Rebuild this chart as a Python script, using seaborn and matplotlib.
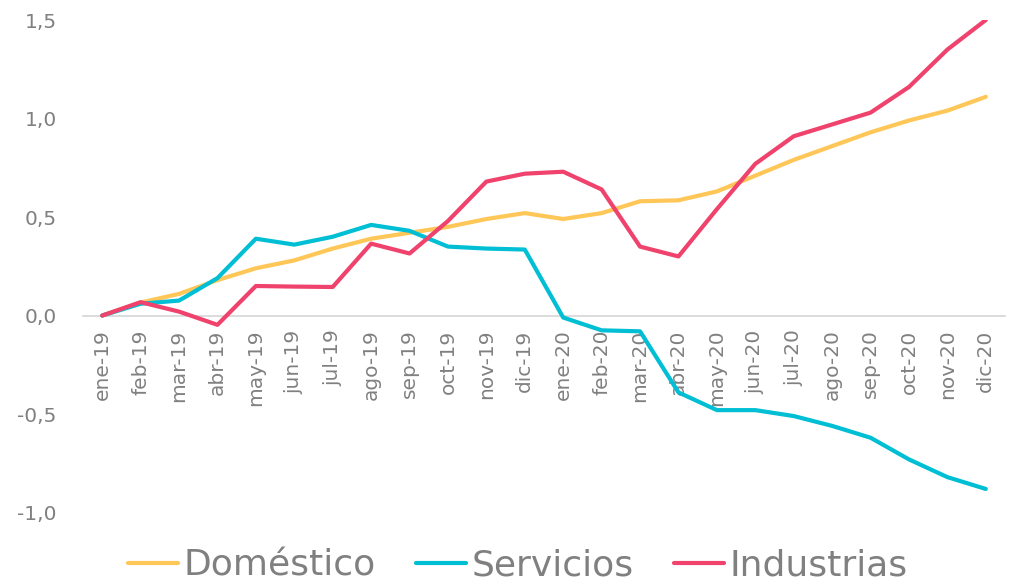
import numpy as np
import pandas as pd
import matplotlib.pyplot as plt
import matplotlib.ticker as mticker
import seaborn as sns

MONTHS = ['ene-19', 'feb-19', 'mar-19', 'abr-19', 'may-19', 'jun-19', 'jul-19', 'ago-19',
          'sep-19', 'oct-19', 'nov-19', 'dic-19', 'ene-20', 'feb-20', 'mar-20', 'abr-20',
          'may-20', 'jun-20', 'jul-20', 'ago-20', 'sep-20', 'oct-20', 'nov-20', 'dic-20']
DOMESTICO = [0.0, 0.066, 0.11, 0.18, 0.24, 0.28, 0.34, 0.39, 0.42, 0.45, 0.49, 0.52,
             0.49, 0.52, 0.58, 0.585, 0.63, 0.71, 0.79, 0.86, 0.93, 0.99, 1.04, 1.11]
SERVICIOS = [0.0, 0.06, 0.076, 0.19, 0.39, 0.36, 0.40, 0.46, 0.43, 0.35, 0.34, 0.335,
             -0.01, -0.075, -0.08, -0.39, -0.48, -0.48, -0.51, -0.56, -0.62, -0.73, -0.82, -0.88]
INDUSTRIAS = [0.0, 0.068, 0.02, -0.047, 0.15, 0.147, 0.145, 0.365, 0.315, 0.48, 0.68, 0.72,
              0.73, 0.64, 0.35, 0.30, 0.54, 0.77, 0.91, 0.97, 1.03, 1.16, 1.35, 1.50]
SERIES = ['Doméstico', 'Servicios', 'Industrias']
COLORS = ['#FFC658', '#00BFD4', '#EF426C']

df = pd.DataFrame({'mes': MONTHS * 3,
                   'idx': list(range(len(MONTHS))) * 3,
                   'valor': DOMESTICO + SERVICIOS + INDUSTRIAS,
                   'serie': sum([[s] * len(MONTHS) for s in SERIES], [])})

sns.set_style('white')
plt.rcParams['font.family'] = ['DejaVu Sans']

fig = plt.figure(figsize=(10.11, 5.84), dpi=100)
ax = fig.add_axes([83 / 1011, 1 - 552 / 584, 922 / 1011, 532 / 584])

sns.lineplot(data=df, x='idx', y='valor', hue='serie', hue_order=SERIES,
             palette=COLORS, linewidth=3, ax=ax, zorder=3)

ax.set_xlim(-0.5, 23.5)
ax.set_ylim(-1.2, 1.5)
ax.set_xlabel('')
ax.set_ylabel('')

for s in ['top', 'right', 'left']:
    ax.spines[s].set_visible(False)
ax.spines['bottom'].set_position(('data', 0))
ax.spines['bottom'].set_color('#d9d9d9')
ax.spines['bottom'].set_linewidth(1.3)
ax.spines['bottom'].set_zorder(1)

ax.set_xticks(range(len(MONTHS)))
ax.set_xticklabels(MONTHS, rotation=90)
ax.set_xticks(np.arange(-0.5, 24, 1), minor=True)
ax.tick_params(axis='x', which='major', length=0, pad=10, labelsize=14.5, labelcolor='#808080')
ax.tick_params(axis='x', which='minor', length=6, width=1.3, color='#d9d9d9', direction='out')

ax.set_yticks([-1.0, -0.5, 0.0, 0.5, 1.0, 1.5])
ax.yaxis.set_major_formatter(mticker.FuncFormatter(lambda v, p: f'{v:.1f}'.replace('.', ',')))
ax.tick_params(axis='y', length=0, pad=19, labelsize=14.5, labelcolor='#808080')

leg = ax.legend(loc='center', bbox_to_anchor=(518 / 1011, 1 - 566 / 584),
                bbox_transform=fig.transFigure, ncol=3, frameon=False,
                fontsize=26, handlelength=1.38, handletextpad=0.15, columnspacing=1.12)
for t in leg.get_texts():
    t.set_color('#808080')
for h in leg.get_lines():
    h.set_linewidth(3)
    h.set_solid_capstyle('round')

fig.savefig('out.png', dpi=100)
